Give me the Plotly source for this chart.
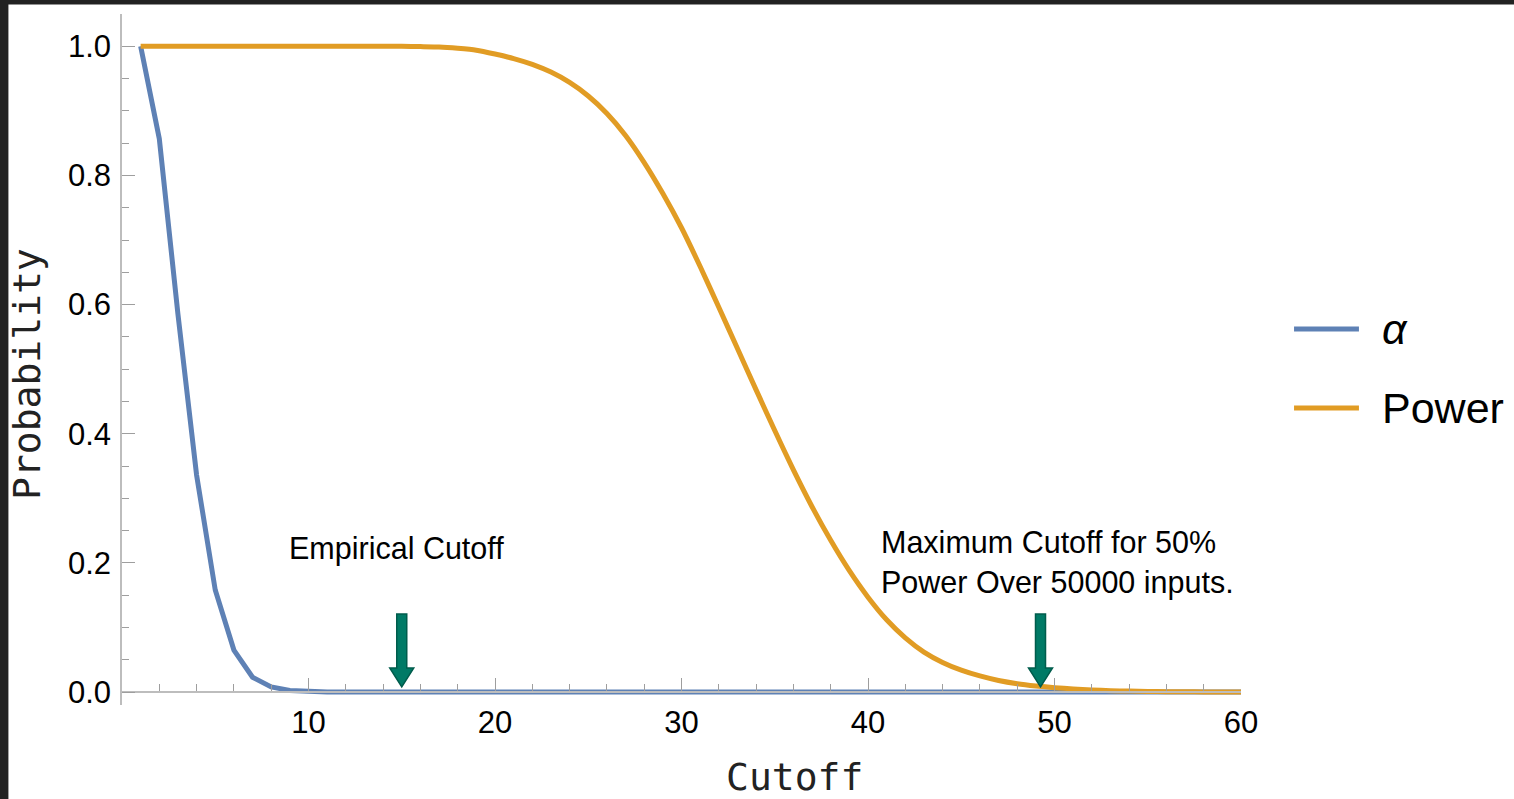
import plotly.graph_objects as go

# ---------------- data ----------------
cutoff = list(range(1, 61))
alpha = [1.0, 0.857, 0.585, 0.336, 0.158, 0.065, 0.023, 0.008, 0.0025, 0.0008,
         0.0002, 0.0001] + [0.0] * 48
power = ([1.0] * 15 +
         [0.9995, 0.999, 0.997, 0.994, 0.988, 0.981, 0.972, 0.960, 0.944, 0.923,
          0.896, 0.862, 0.820, 0.772, 0.719, 0.659, 0.596, 0.532, 0.468, 0.405,
          0.344, 0.287, 0.235, 0.188, 0.147, 0.112, 0.084, 0.062, 0.046, 0.034,
          0.025, 0.018, 0.013, 0.0095, 0.0068, 0.0048, 0.0033, 0.0022, 0.0015, 0.001,
          0.0007, 0.0004, 0.0003, 0.0002, 0.0001])
x_ticks = [10, 20, 30, 40, 50, 60]
y_ticks = [0.0, 0.2, 0.4, 0.6, 0.8, 1.0]
y_tick_text = ["0.0", "0.2", "0.4", "0.6", "0.8", "1.0"]
series_names = ["α", "Power"]
arrow_x = [15, 49.25]
arrow_y = 0.008
note_empirical = "Empirical Cutoff"
note_maximum = "Maximum Cutoff for 50%<br>Power Over 50000 inputs."

BLUE = "#5E81B5"
ORANGE = "#E19C24"
TEAL = "#007A66"
TEAL_DARK = "#005C4C"
AXIS = "#BDBDBD"
TICK = "#9E9E9E"
FONT = "Liberation Sans, Arial, sans-serif"
MONO = "DejaVu Sans Mono, monospace"

fig = go.Figure()
fig.add_trace(go.Scatter(x=cutoff, y=alpha, mode="lines", name=series_names[0],
                         line=dict(color=BLUE, width=5), showlegend=False))
fig.add_trace(go.Scatter(x=cutoff, y=power, mode="lines", name=series_names[1],
                         line=dict(color=ORANGE, width=5, shape="spline", smoothing=0.5),
                         showlegend=False))

shapes = []
# white page over a dark frame (top and left edges)
shapes.append(dict(type="rect", xref="paper", yref="paper", x0=-0.1015, x1=1.3,
                   y0=-0.2, y1=1.0136, fillcolor="white", line=dict(width=0),
                   layer="below"))
# arrows (pixel-sized, anchored at data points)
for ax in arrow_x:
    path = ("M0,0 L-12,19 L-5,19 L-5,73 L5,73 L5,19 L12,19 Z")
    shapes.append(dict(type="path", path=path, xsizemode="pixel", ysizemode="pixel",
                       xanchor=ax, yanchor=arrow_y, xref="x", yref="y",
                       fillcolor=TEAL, line=dict(color=TEAL_DARK, width=1.5)))
# manual legend lines
leg_y = [0.5441, 0.4298]
for ly, col in zip(leg_y, [BLUE, ORANGE]):
    shapes.append(dict(type="line", xref="paper", yref="paper", x0=1.0474, x1=1.1054,
                       y0=ly, y1=ly, line=dict(color=col, width=5)))

annotations = [
    dict(text=note_empirical, x=14.7, y=0.223, xref="x", yref="y", showarrow=False,
         xanchor="center", yanchor="middle", font=dict(family=FONT, size=30.5, color="black")),
    dict(text=note_maximum, x=40.6, y=0.2, xref="x", yref="y", showarrow=False,
         xanchor="left", yanchor="middle", align="left",
         font=dict(family=FONT, size=30.5, color="black")),
    dict(text="Cutoff", x=0.6014, y=-0.104, xref="paper", yref="paper", showarrow=False,
         xanchor="center", yanchor="middle", font=dict(family=MONO, size=38, color="#222")),
    dict(text="Probability", x=-0.0849, y=0.479, xref="paper", yref="paper",
         showarrow=False, textangle=-90, xanchor="center", yanchor="middle",
         font=dict(family=MONO, size=38, color="#222")),
    dict(text="<i>" + series_names[0] + "</i>", x=1.124, y=leg_y[0], xref="paper", yref="paper",
         showarrow=False, xanchor="left", yanchor="middle",
         font=dict(family=FONT, size=43, color="black")),
    dict(text=series_names[1], x=1.124, y=leg_y[1], xref="paper", yref="paper",
         showarrow=False, xanchor="left", yanchor="middle",
         font=dict(family=FONT, size=43, color="black")),
]

fig.update_layout(
    width=1514, height=799,
    margin=dict(l=122, r=273, t=14, b=94),
    paper_bgcolor="#222222", plot_bgcolor="white",
    shapes=shapes, annotations=annotations,
    showlegend=False,
    xaxis=dict(range=[0, 60], anchor="free", position=0.02 / 1.07,
               showgrid=False, zeroline=False, showline=True, linecolor=AXIS, linewidth=1.5,
               tickvals=x_ticks, ticks="inside", ticklen=13, tickcolor=TICK, tickwidth=1.2,
               minor=dict(dtick=2, tick0=0, ticks="inside", ticklen=7, tickcolor=TICK,
                          tickwidth=1.2, showgrid=False),
               tickfont=dict(family=FONT, size=31, color="black"), ticklabelstandoff=3),
    yaxis=dict(range=[-0.02, 1.05], showgrid=False, zeroline=False, showline=True,
               linecolor=AXIS, linewidth=1.5,
               tickvals=y_ticks, ticktext=y_tick_text, ticks="inside", ticklen=13,
               tickcolor=TICK, tickwidth=1.2,
               minor=dict(dtick=0.05, tick0=0, ticks="inside", ticklen=7, tickcolor=TICK,
                          tickwidth=1.2, showgrid=False),
               tickfont=dict(family=FONT, size=31, color="black"), ticklabelstandoff=3),
)

fig.write_html("out.html")
